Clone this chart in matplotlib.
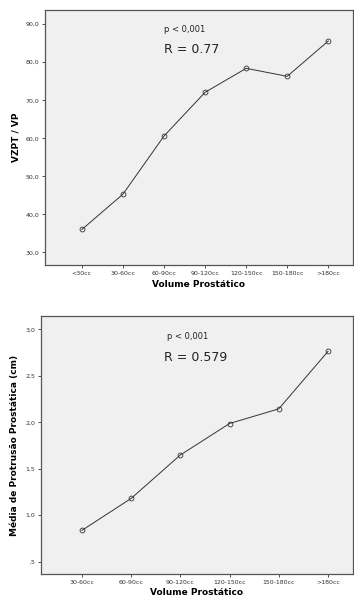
import matplotlib.pyplot as plt

# data
cats_top = ['<30cc', '30-60cc', '60-90cc', '90-120cc', '120-150cc', '150-180cc', '>180cc']
vzpt_vp = [36.0, 45.3, 60.6, 72.1, 78.4, 76.3, 85.6]
yticks_top = [30, 40, 50, 60, 70, 80, 90]
ylabels_top = ['30,0', '40,0', '50,0', '60,0', '70,0', '80,0', '90,0']

cats_bot = ['30-60cc', '60-90cc', '90-120cc', '120-150cc', '150-180cc', '>180cc']
protrusao = [0.836, 1.18, 1.648, 1.987, 2.145, 2.764]
yticks_bot = [0.5, 1.0, 1.5, 2.0, 2.5, 3.0]
ylabels_bot = [',5', '1,0', '1,5', '2,0', '2,5', '3,0']

fig = plt.figure(figsize=(3.54, 6.0), dpi=100, facecolor='white')

def style_ax(ax):
    ax.set_facecolor('#f0f0f0')
    for s in ['left', 'bottom', 'top', 'right']:
        ax.spines[s].set_color('#555555')
        ax.spines[s].set_linewidth(0.9)
    ax.tick_params(axis='both', labelsize=4.5, colors='#333333', length=2.5, width=0.6,
                   labelcolor='#333333', pad=1.5)
    ax.tick_params(axis='x', length=2, pad=2)

# top chart
ax1 = fig.add_axes([0.127, 0.558, 0.87, 0.425])
style_ax(ax1)
x1 = range(len(cats_top))
ax1.plot(x1, vzpt_vp, color='#333333', lw=0.7, marker='o', ms=3.5,
         mfc='none', mec='#333333', mew=0.6)
ax1.set_xlim(-0.9, 6.6)
ax1.set_ylim(26.6, 93.7)
ax1.set_xticks(list(x1))
ax1.set_xticklabels(cats_top)
ax1.set_yticks(yticks_top)
ax1.set_yticklabels(ylabels_top)
ax1.set_ylabel('VZPT / VP', fontsize=6.5, fontweight='bold', labelpad=4)
ax1.set_xlabel('Volume Prostático', fontsize=6.5, fontweight='bold', labelpad=3)
ax1.text(0.388, 0.923, 'p < 0,001', transform=ax1.transAxes, fontsize=6,
         va='center', color='#222222')
ax1.text(0.386, 0.847, 'R = 0.77', transform=ax1.transAxes, fontsize=9,
         va='center', color='#222222')

# bottom chart
ax2 = fig.add_axes([0.116, 0.043, 0.88, 0.43])
style_ax(ax2)
x2 = range(len(cats_bot))
ax2.plot(x2, protrusao, color='#333333', lw=0.7, marker='o', ms=3.5,
         mfc='none', mec='#333333', mew=0.6)
ax2.set_xlim(-0.83, 5.5)
ax2.set_ylim(0.364, 3.143)
ax2.set_xticks(list(x2))
ax2.set_xticklabels(cats_bot)
ax2.set_yticks(yticks_bot)
ax2.set_yticklabels(ylabels_bot)
ax2.set_ylabel('Média de Protrusão Prostática (cm)', fontsize=6.5, fontweight='bold', labelpad=5)
ax2.set_xlabel('Volume Prostático', fontsize=6.5, fontweight='bold', labelpad=2)
ax2.text(0.405, 0.923, 'p < 0,001', transform=ax2.transAxes, fontsize=6,
         va='center', color='#222222')
ax2.text(0.396, 0.84, 'R = 0.579', transform=ax2.transAxes, fontsize=9,
         va='center', color='#222222')

fig.savefig('out.png', dpi=100, facecolor='white')
